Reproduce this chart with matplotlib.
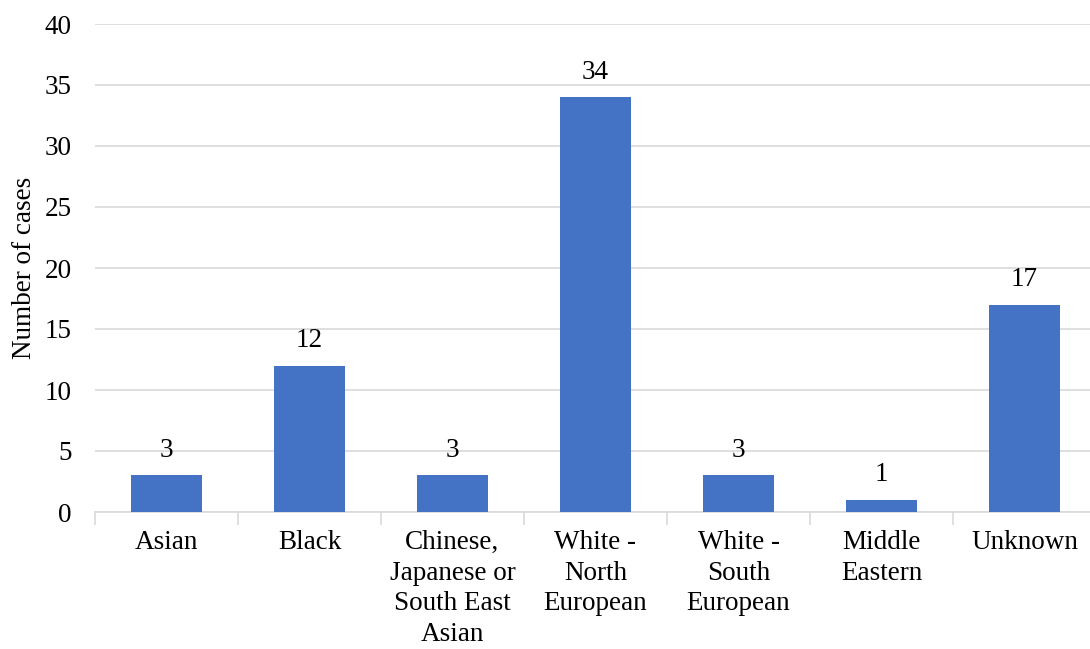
import matplotlib.pyplot as plt
import numpy as np

# Cases by ethnic group
categories = ['Asian', 'Black', 'Chinese,\nJapanese or\nSouth East\nAsian',
              'White -\nNorth\nEuropean', 'White -\nSouth\nEuropean',
              'Middle\nEastern', 'Unknown']
cases = [3, 12, 3, 34, 3, 1, 17]

plt.rcParams['font.family'] = ['Liberation Serif', 'DejaVu Serif']
plt.rcParams['font.size'] = 19.5

fig = plt.figure(figsize=(10.9, 6.49), dpi=100)
# axes spans category slots of 143 px from x=95
ax = fig.add_axes([95/1090, 137/649, 1001/1090, 488/649])

x = np.arange(len(categories))
bars = ax.bar(x, cases, width=0.5, color='#4472C4', zorder=3)

for xi, v in zip(x, cases):
    ax.annotate(str(v), (xi, v), xytext=(0, 9), textcoords='offset points',
                ha='center', va='bottom', fontsize=19.5)

ax.set_xlim(-0.5, len(categories) - 0.5)
ax.set_ylim(0, 40)
ax.set_yticks(range(0, 41, 5))
ax.yaxis.grid(True, color='#D9D9D9', linewidth=1.2, zorder=0)

# category labels in the middle, ticks on the slot boundaries
ax.set_xticks(x)
ax.set_xticklabels(categories, linespacing=1.3)
ax.set_xticks(np.arange(-0.5, len(categories), 1), minor=True)
ax.tick_params(axis='x', which='major', length=0, pad=13)
ax.tick_params(axis='x', which='minor', length=9, color='#D9D9D9', width=1.2)
ax.tick_params(axis='y', length=0, pad=17)

for side in ['left', 'right', 'top']:
    ax.spines[side].set_visible(False)
ax.spines['bottom'].set_color('#D9D9D9')
ax.spines['bottom'].set_linewidth(1.2)

ax.set_ylabel('Number of cases', fontsize=19.5, labelpad=5)

fig.savefig('out.png', dpi=100)
